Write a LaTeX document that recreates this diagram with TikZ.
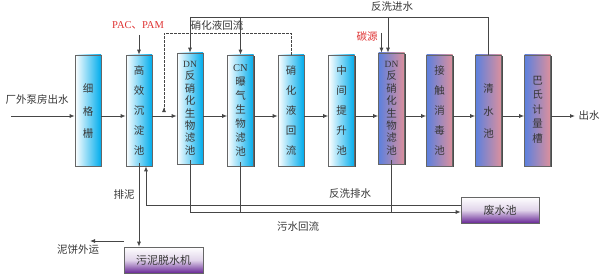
\documentclass[tikz,border=0pt]{standalone}
\usepackage{fontspec}
\setmainfont{Liberation Serif}
\newfontfamily\cjk{Noto Sans CJK SC}
\usetikzlibrary{arrows.meta,shadows}
\definecolor{cyanR}{RGB}{0,172,236}
\definecolor{blueL}{RGB}{92,128,222}
\definecolor{pinkR}{RGB}{222,144,156}
\definecolor{purpB}{RGB}{104,40,150}
\definecolor{lineC}{RGB}{70,70,70}
\definecolor{txtC}{RGB}{55,55,55}
\definecolor{redC}{RGB}{222,50,50}
\tikzset{
  tank/.style={draw=gray!80!black, line width=0.6pt, minimum width=26pt, minimum height=111pt,
    inner sep=0pt, text=txtC,
    drop shadow={shadow xshift=1.2pt, shadow yshift=-1.2pt, fill=gray!60!black, opacity=1}},
  cyantank/.style={tank, left color=white, right color=cyanR},
  pinktank/.style={tank, left color=blueL, right color=pinkR},
  vtext/.style={font=\cjk\fontsize{10.5}{#1}\selectfont},
  purpbox/.style={draw=gray!80!black, line width=0.6pt, minimum height=26pt, text=txtC,
    top color=white, bottom color=purpB, middle color=purpB!20,
    drop shadow={shadow xshift=1.2pt, shadow yshift=-1.2pt, fill=gray!60!black, opacity=1},
    font=\cjk\fontsize{11}{11}\selectfont},
  flow/.style={draw=lineC, line width=0.8pt},
  arr/.style={flow, -{Latex[length=5pt,width=4pt]}},
  lbl/.style={text=txtC, inner sep=0pt, font=\cjk\fontsize{10.5}{10.5}\selectfont},
  rlbl/.style={lbl, text=redC},
}
\newcommand{\latin}[1]{{\rmfamily #1}}
\newcommand{\vstk}[1]{\begin{tabular}{@{}c@{}}#1\end{tabular}}
\begin{document}
\begin{tikzpicture}[x=1pt,y=-1pt]
\useasboundingbox (0,0) rectangle (600,278);
% tanks
\node[cyantank, vtext=22.5] (b1) at (88,110.5) {\vstk{细\\格\\栅}};
\node[cyantank, vtext=20] (b2) at (139,110.5) {\vstk{高\\效\\沉\\淀\\池}};
\node[cyantank, vtext=12] (b3) at (190,108.5) {\vstk{\rmfamily\fontsize{9.5}{12}\selectfont DN\\反\\硝\\化\\生\\物\\滤\\池}};
\node[cyantank, vtext=14] (b4) at (240.5,110.5) {\vstk{\rmfamily CN\\曝\\气\\生\\物\\滤\\池}};
\node[cyantank, vtext=20] (b5) at (291,110.5) {\vstk{硝\\化\\液\\回\\流}};
\node[cyantank, vtext=20] (b6) at (341.5,110.5) {\vstk{中\\间\\提\\升\\池}};
\node[pinktank, vtext=12] (b7) at (391.5,108.5) {\vstk{\rmfamily\fontsize{9.5}{12}\selectfont DN\\反\\硝\\化\\生\\物\\滤\\池}};
\node[pinktank, vtext=20] (b8) at (439.5,110.5) {\vstk{接\\触\\消\\毒\\池}};
\node[pinktank, vtext=22.5] (b9) at (488.5,110.5) {\vstk{清\\水\\池}};
\node[pinktank, vtext=14.5] (b10) at (537.5,110.5) {\vstk{巴\\氏\\计\\量\\槽}};
\node[purpbox, minimum width=79pt] (sl) at (163.5,260) {污泥脱水机};
\node[purpbox, minimum width=78pt] (ww) at (500,210) {废水池};
% labels
\node[lbl] (tin) at (37,100) {厂外泵房出水};
\node[lbl] (tout) at (589,116) {出水};
\node[rlbl] (tpac) at (138,25) {\latin{PAC}、\latin{PAM}};
\node[lbl] (tnr) at (217,25) {硝化液回流};
\node[lbl] (tbw) at (392,7) {反洗进水};
\node[rlbl] (tcs) at (367,37) {碳源};
\node[lbl] (tpn) at (124,195) {排泥};
\node[lbl] (tcake) at (78,250) {泥饼外运};
\node[lbl] (tbd) at (350,194) {反洗排水};
\node[lbl] (tsr) at (298,227) {污水回流};
% coordinates
\coordinate (in) at (11,116);
\coordinate (out) at (575,116);
\coordinate (pac) at (139,35);
\coordinate (cs) at (381.5,33);
\coordinate (bwtop) at (488.5,17);
\coordinate (drtop) at (291,33);
\coordinate (drend) at (164,107);
\coordinate (cake1) at (124,241);
\coordinate (cake2) at (90,241);
% main line
\draw[arr] (in) -- (b1.west |- in);
\foreach \a/\b in {b1/b2,b2/b3,b3/b4,b4/b5,b5/b6,b6/b7,b7/b8,b8/b9,b9/b10}
  \draw[arr] (\a.east |- in) -- (\b.west |- in);
\draw[arr] (b10.east |- out) -- (out);
% chemicals
\draw[arr] (pac) -- (pac |- b2.north);
\draw[arr] (cs) -- (cs |- b7.north);
% backwash water
\draw[flow] (b9.north) -- (bwtop) -- (b3.north |- bwtop);
\draw[arr] (b3.north |- bwtop) -- (b3.north);
\draw[arr] (b4.north |- bwtop) -- (b4.north);
\draw[arr] ([xshift=-3.5pt]b7.north |- bwtop) -- ([xshift=-3.5pt]b7.north);
% nitrification return (dashed)
\draw[flow, dashed, dash pattern=on 2.5pt off 1.5pt] (b5.north) -- (drtop) -- (drtop -| drend) -- (drend);
\draw[-{Latex[length=5pt,width=4pt]}, draw=lineC, line width=0.8pt] ([yshift=-0.5pt]drend) -- (drend);
% sludge
\draw[arr] ([yshift=3pt]b2.south) -- (b2.south |- sl.north);
\draw[arr] (cake1) -- (cake2);
% sewage return
\draw[arr] ([yshift=5pt]ww.west) -| ([xshift=7pt]b2.south);
% backwash drainage
\draw[flow] ([yshift=4pt]b3.south) -- ([yshift=-2pt]b3.south |- ww.west);
\draw[flow] ([yshift=4pt]b4.south) -- ([yshift=-2pt]b4.south |- ww.west);
\draw[flow] ([yshift=4pt]b7.south) -- ([yshift=-2pt]b7.south |- ww.west);
\draw[arr] ([yshift=-2pt]b3.south |- ww.west) -- ([yshift=-2pt]ww.west);
\end{tikzpicture}
\end{document}
